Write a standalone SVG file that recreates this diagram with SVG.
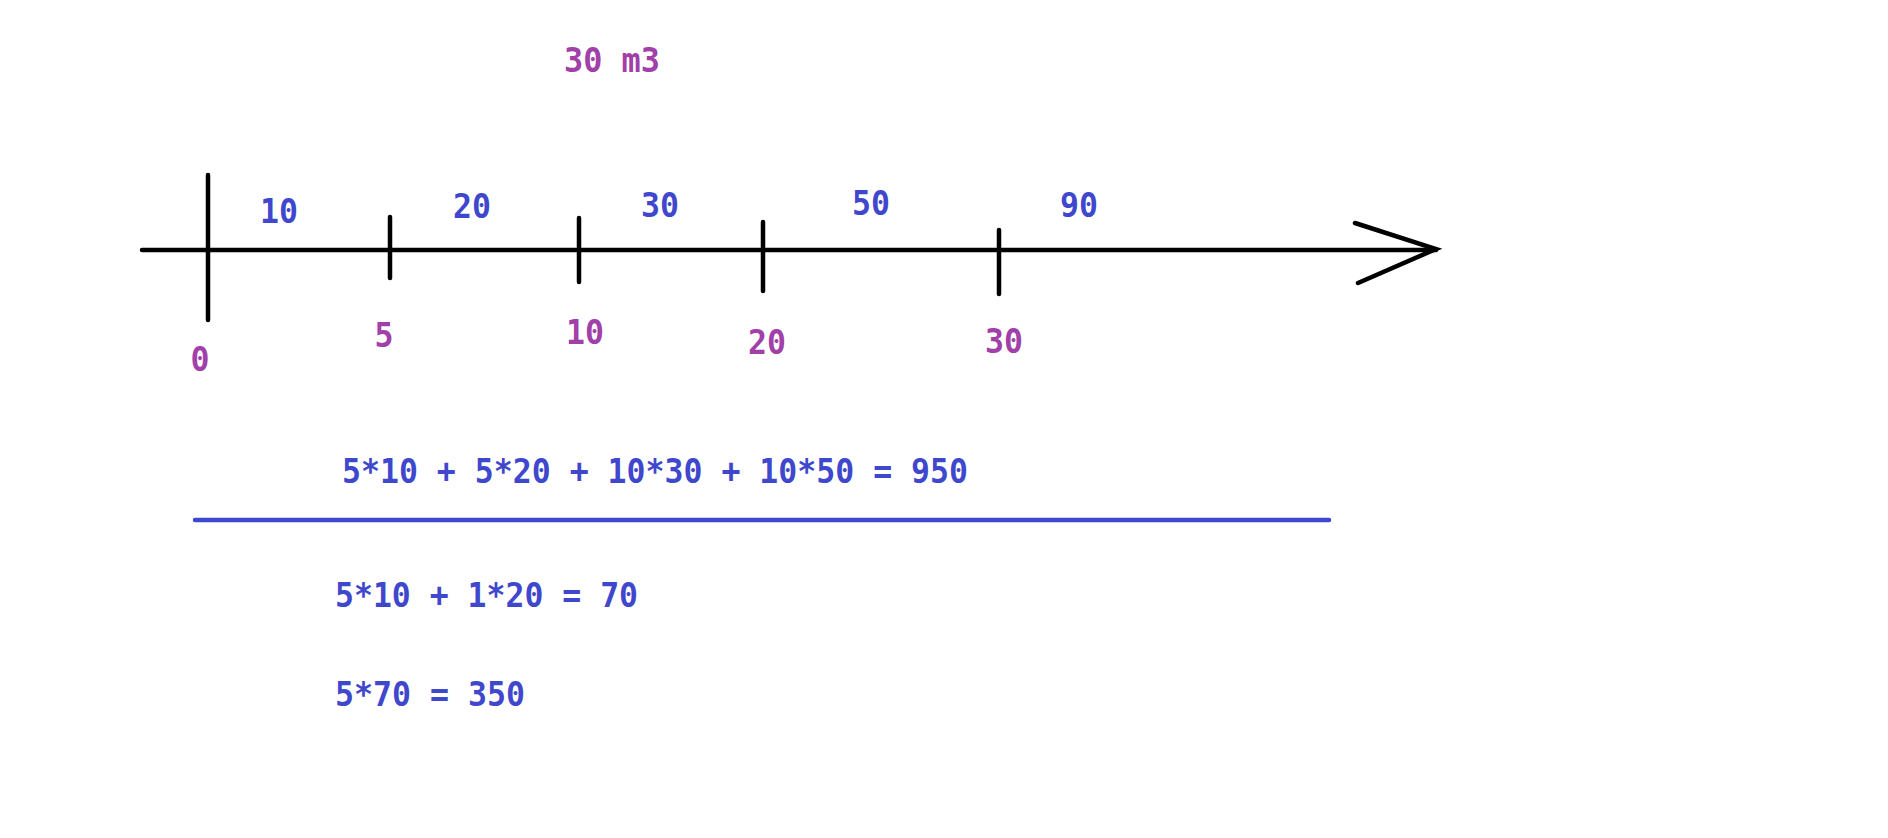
<svg xmlns="http://www.w3.org/2000/svg" width="1888" height="838" viewBox="0 0 1888 838">
<style>
.ln{stroke:#000;stroke-width:4.5;stroke-linecap:round;fill:none}
.t{font-family:"DejaVu Sans Mono","Liberation Mono",monospace;font-size:34px;font-weight:bold;text-anchor:middle}
.b{fill:#3f48cc}
.p{fill:#a040a8}
.f{font-family:"DejaVu Sans Mono","Liberation Mono",monospace;font-size:34px;font-weight:bold;fill:#3f48cc}
</style>
<rect width="1888" height="838" fill="#fff"/>
<g id="connectors">
<line class="ln" x1="142" y1="250" x2="1436" y2="250"/>
<polyline class="ln" points="1355,223 1436,249 1358,283"/>
<line class="ln" x1="208" y1="175" x2="208" y2="320"/>
<line class="ln" x1="390" y1="217" x2="390" y2="278"/>
<line class="ln" x1="579" y1="218" x2="579" y2="282"/>
<line class="ln" x1="763" y1="222" x2="763" y2="291"/>
<line class="ln" x1="999" y1="230" x2="999" y2="294"/>
<line x1="195" y1="520" x2="1329" y2="520" stroke="#3f48cc" stroke-width="4.5" stroke-linecap="round"/>
</g>
<g id="title"><text class="t p" x="612" y="72" textLength="96" lengthAdjust="spacingAndGlyphs">30 m3</text></g>
<g id="rates">
<text class="t b" x="279" y="223" textLength="38" lengthAdjust="spacingAndGlyphs">10</text>
<text class="t b" x="472" y="218" textLength="38" lengthAdjust="spacingAndGlyphs">20</text>
<text class="t b" x="660" y="217" textLength="38" lengthAdjust="spacingAndGlyphs">30</text>
<text class="t b" x="871" y="215" textLength="38" lengthAdjust="spacingAndGlyphs">50</text>
<text class="t b" x="1079" y="217" textLength="38" lengthAdjust="spacingAndGlyphs">90</text>
</g>
<g id="marks">
<text class="t p" x="200" y="371" textLength="19" lengthAdjust="spacingAndGlyphs">0</text>
<text class="t p" x="384" y="347" textLength="19" lengthAdjust="spacingAndGlyphs">5</text>
<text class="t p" x="585" y="344" textLength="38" lengthAdjust="spacingAndGlyphs">10</text>
<text class="t p" x="767" y="354" textLength="38" lengthAdjust="spacingAndGlyphs">20</text>
<text class="t p" x="1004" y="353" textLength="38" lengthAdjust="spacingAndGlyphs">30</text>
</g>
<g id="formulas">
<text class="f" x="342" y="483" textLength="626" lengthAdjust="spacingAndGlyphs">5*10 + 5*20 + 10*30 + 10*50 = 950</text>
<text class="f" x="335" y="607" textLength="303" lengthAdjust="spacingAndGlyphs">5*10 + 1*20 = 70</text>
<text class="f" x="335" y="706" textLength="190" lengthAdjust="spacingAndGlyphs">5*70 = 350</text>
</g>
</svg>
